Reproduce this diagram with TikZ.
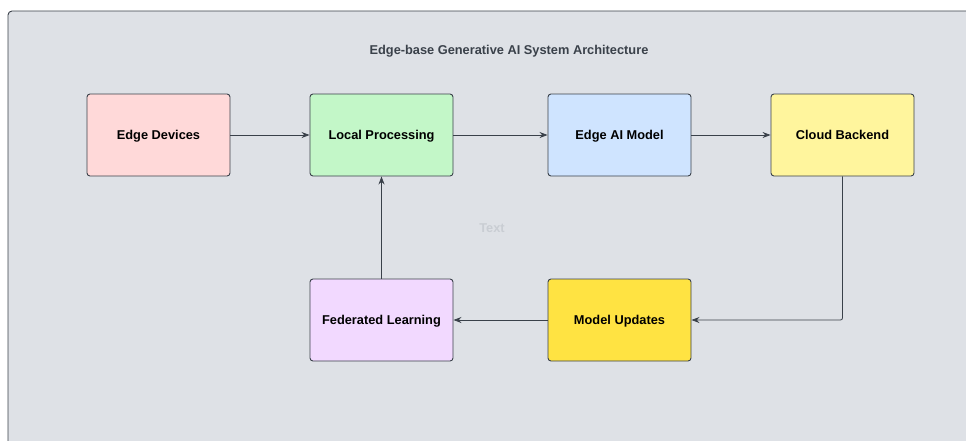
\documentclass[tikz,border=0pt]{standalone}
\usepackage{fontspec}
\setmainfont{Liberation Sans}
\usetikzlibrary{arrows.meta}

\definecolor{canvas}{HTML}{DEE1E6}
\definecolor{edgeline}{HTML}{3A414A}
\definecolor{devfill}{HTML}{FFD9D9}
\definecolor{procfill}{HTML}{C3F7C8}
\definecolor{modelfill}{HTML}{CFE4FF}
\definecolor{cloudfill}{HTML}{FFF59D}
\definecolor{updfill}{HTML}{FFE342}
\definecolor{fedfill}{HTML}{F2D9FF}
\definecolor{ghost}{HTML}{C9CDD3}

\begin{document}
\begin{tikzpicture}[x=1pt,y=-1pt,
    block/.style={rectangle, draw=edgeline, line width=0.9pt, rounded corners=3pt,
      minimum width=143pt, minimum height=82pt, text depth=0pt,
      font=\fontsize{12.8}{15}\selectfont\bfseries},
    flow/.style={draw=edgeline, line width=0.8pt, -{Stealth[length=8pt,width=6pt]}}]
       \useasboundingbox (0,0) rectangle (966,440);
       \clip (0,0) rectangle (966,440);
       \draw[fill=canvas, draw=edgeline, line width=0.9pt, rounded corners=4pt] (8,11) rectangle (990,470);

       \node[text=edgeline, font=\fontsize{12.8}{15}\selectfont\bfseries] (title) at (509,51) {Edge-base Generative AI System Architecture};

       \node[block, fill=devfill] (devices) at (158.5,135) {Edge Devices};
       \node[block, fill=procfill] (local) at (381.5,135) {Local Processing};
       \node[block, fill=modelfill] (model) at (619.5,135) {Edge AI Model};
       \node[block, fill=cloudfill] (cloud) at (842.5,135) {Cloud Backend};
       \node[block, fill=updfill] (updates) at (619.5,320) {Model Updates};
       \node[block, fill=fedfill] (federated) at (381.5,320) {Federated Learning};

       \node[text=ghost, font=\fontsize{12.8}{15}\selectfont\bfseries] (note) at (492,228) {Text};

       \draw[flow] (devices) -- (local);
       \draw[flow] (local) -- (model);
       \draw[flow] (model) -- (cloud);
       \draw[flow, rounded corners=2pt] (cloud.south) |- (updates.east);
       \draw[flow] (updates) -- (federated);
       \draw[flow] (federated) -- (local);
\end{tikzpicture}
\end{document}
